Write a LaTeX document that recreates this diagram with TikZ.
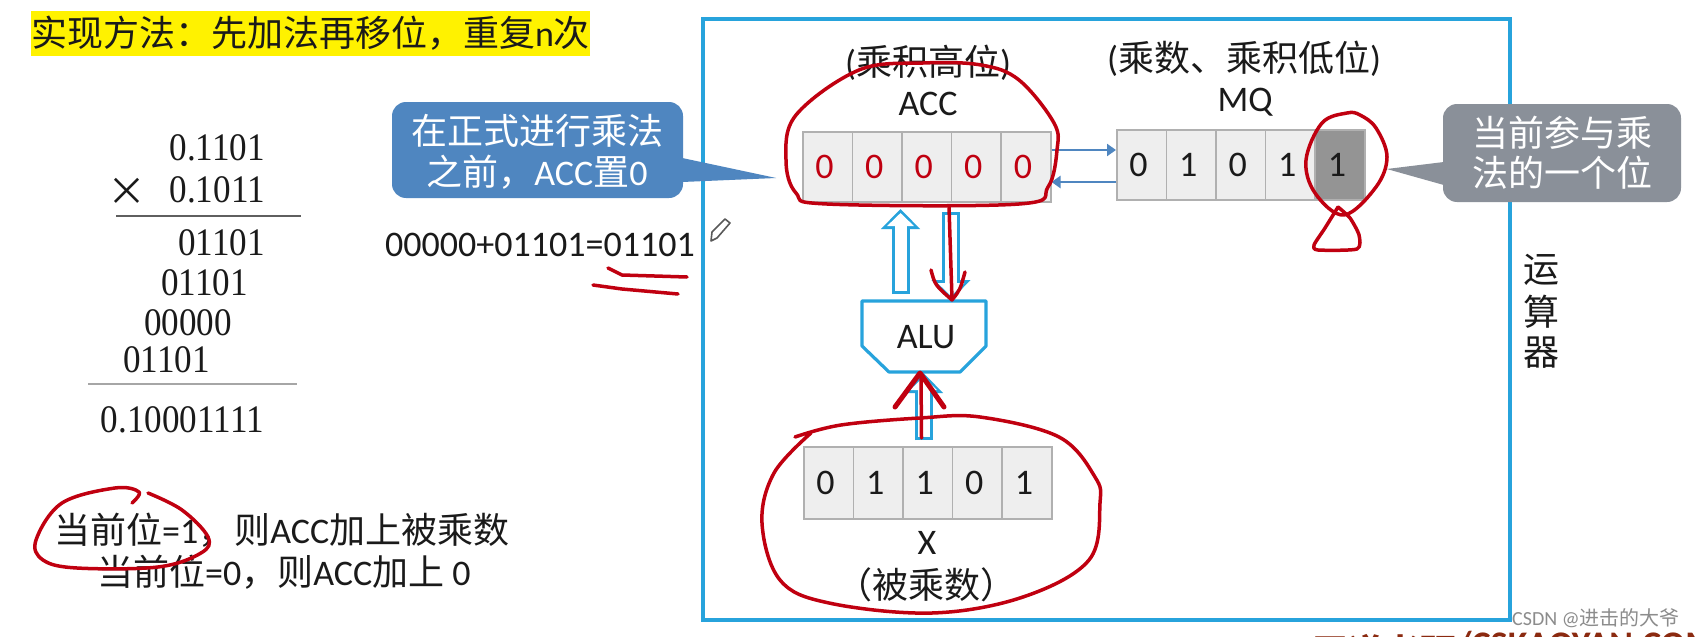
\documentclass[tikz,border=0pt]{standalone}
\usepackage{fontspec}
\usetikzlibrary{arrows.meta,calc}
\setmainfont{Carlito}
\newfontfamily\cjk{Noto Sans CJK SC}
\newfontfamily\tms[FakeStretch=0.9]{Liberation Serif}
\definecolor{boxblue}{HTML}{27A3DC}
\definecolor{inkred}{HTML}{C00010}
\definecolor{callblue}{HTML}{4F86C0}
\definecolor{callgray}{HTML}{8A9099}
\definecolor{cellgray}{HTML}{EEEEEE}
\definecolor{celledge}{HTML}{B0B0B0}
\definecolor{ink}{HTML}{1A1A1A}
\definecolor{brownmark}{HTML}{8B2A10}
\newcommand{\C}[1]{{\cjk #1}}
\newcommand{\D}[1]{#1\kern6pt\relax}
\tikzset{
  txt/.style={inner sep=0pt,text=ink,font=\fontsize{36}{40}\selectfont},
  sums/.style={inner sep=0pt,anchor=east,text=ink,font=\tms\fontsize{39}{42}\selectfont},
  cell/.style={draw=celledge,fill=cellgray,line width=1.5pt,minimum width=49.6pt,minimum height=70pt,inner sep=0pt,font=\fontsize{36}{40}\selectfont,text=ink,anchor=west},
  scribble/.style={draw=inkred,line width=3.5pt,line cap=round,line join=round},
  thin arrow/.style={draw=callblue,line width=2.5pt,-{Triangle[length=9pt,width=12pt]}},
  callbox/.style={rounded corners=14pt,inner sep=0pt,draw=none},
  calltext/.style={inner sep=0pt,text=white,font=\fontsize{36}{40}\selectfont}
}
\newcommand{\hollow}[2]{%
  \draw[boxblue,line width=18pt,-{Triangle[length=20pt,width=38pt]}] (#1) -- (#2);
  \draw[white,line width=12pt,shorten <=3pt,shorten >=4pt,-{Triangle[length=13pt,width=26pt]}] (#1) -- (#2);
}
\begin{document}
\begin{tikzpicture}[x=1pt,y=-1pt]
\useasboundingbox (0,0) rectangle (1700,637);
\clip (0,0) rectangle (1700,637);
\fill[white] (0,0) rectangle (1700,637);

% title
\node[inner sep=0pt,fill=yellow,minimum width=557pt,minimum height=45pt,text=ink,font=\fontsize{36}{40}\selectfont] (title) at (310.5,33.5) {\C{实现方法：先加法再移位，重复}n\C{次}};

% long multiplication
\node[sums] (m1) at (265,148) {0.1101};
\node[sums] (m2) at (265,190) {0.1011};
\node[sums] (mx) at (147,192) {\C{×}};
\node[sums] (p1) at (265,243) {01101};
\node[sums] (p2) at (248,283) {01101};
\node[sums] (p3) at (232,323) {00000};
\node[sums] (p4) at (210,360) {01101};
\node[sums] (res) at (264,420) {0.10001111};
\draw[draw=ink!70,line width=1.5pt] (116,216) -- (301,216);
\draw[draw=black!35,line width=1.5pt] (88,384) -- (297,384);

% notes
\node[txt,anchor=west] (n1) at (54,530) {\C{当前位}=1\C{，则}ACC\C{加上被乘数}};
\node[txt,anchor=west] (n2) at (97,572) {\C{当前位}=0\C{，则}ACC\C{加上} 0};
\node[txt,anchor=west] (eq) at (385,245) {00000+01101=01101};

% main box
\draw[boxblue,line width=4pt] (703,19) rectangle (1510,620);
\node[txt] (yun) at (1541,270) {\C{运}};
\node[txt] (suan) at (1541,312) {\C{算}};
\node[txt] (qi) at (1541,353) {\C{器}};

% registers
\foreach \d [count=\i from 0] in {0,0,0,0,0}
  \node[cell,text=inkred] (a\i) at ({802+49.6*\i},167) {\D{\d}};
\foreach \d [count=\i from 0] in {0,1,0,1}
  \node[cell] (q\i) at ({1116+49.6*\i},165) {\D{\d}};
\node[cell,fill=black!42] (q4) at ({1116+49.6*4},165) {\D{1}};
\foreach \d [count=\i from 0] in {0,1,1,0,1}
  \node[cell,minimum height=72pt] (x\i) at ({803+49.6*\i},483) {\D{\d}};

% labels
\node[txt] (lacc) at (928,63) {(\C{乘积高位})};
\node[txt] (acc) at (928,104) {ACC};
\node[txt] (lmq) at (1244,59) {(\C{乘数、乘积低位})};
\node[txt] (mq) at (1245,102) {MQ};
\node[txt] (xn) at (927,543) {X};
\node[txt] (lx) at (926,585) {\C{（被乘数）}};

% thin arrows between ACC and MQ
\draw[thin arrow] ($(a4.east)+(0,-17)$) -- ($(q0.west)+(0,-15)$);
\draw[thin arrow] ($(q0.west)+(0,17)$) -- ($(a4.east)+(0,15)$);

% ALU
\node[txt] (alu) at (926,337) {ALU};
\draw[boxblue,line width=3.2pt,line join=round] (862,301) -- (986,301) -- (986,346) -- (960,372) -- (889,372) -- (862,346) -- cycle;

% hollow arrows
\coordinate (aluUpS) at (900.5,294);
\coordinate (accUpE) at (900.5,209);
\coordinate (accDnS) at (951,212);
\coordinate (aluDnE) at (951,300);
\coordinate (xUpS) at (923.5,440);
\coordinate (aluUpE) at (923.5,373);
\hollow{aluUpS}{accUpE}
\hollow{accDnS}{aluDnE}
\hollow{xUpS}{aluUpE}

% callouts
\node[callbox,fill=callblue,minimum width=291pt,minimum height=96pt] (cb) at (537.5,150) {};
\fill[callblue] ($(cb.east)+(-1,8)$) -- ($(cb.east)+(93,28)$) -- ($(cb.east)+(-1,32)$) -- cycle;
\node[calltext] (cb1) at (537.5,131) {\C{在正式进行乘法}};
\node[calltext] (cb2) at (537,172) {\C{之前，}ACC\C{置}0};
\node[callbox,fill=callgray,minimum width=238pt,minimum height=98pt] (cg) at (1562,153) {};
\fill[callgray] ($(cg.west)+(1,9)$) -- ($(cg.west)+(-56,16)$) -- ($(cg.west)+(1,32)$) -- cycle;
\node[calltext] (cg1) at (1562,133) {\C{当前参与乘}};
\node[calltext] (cg2) at (1562,173) {\C{法的一个位}};

% pencil cursor
\draw[black!65,line width=1.6pt,fill=white,line join=round] (711,241) -- (712,232) -- (725,219) -- (730,223) -- (717,238) -- cycle;

% red annotations
\draw[scribble] plot[smooth cycle,tension=.6] coordinates {(796,115) (859,70) (923,63) (981,65) (1019,80) (1054,123) (1057,150) (1048,187) (1019,204) (827,204) (796,193) (786,160)};
\draw[scribble] plot[smooth cycle,tension=.6] coordinates {(1347,113) (1322,123) (1306,160) (1315,193) (1344,215) (1376,187) (1387,157) (1376,128) (1360,115)};
\draw[scribble] plot[smooth,tension=.4] coordinates {(1338,207) (1325,228) (1314,245) (1318,250) (1357,249) (1359,235) (1350,218) (1338,207)};
\draw[scribble] plot[smooth,tension=.6] coordinates {(795,437) (841,425) (920,418) (980,417) (1059,437) (1095,477) (1100,503) (1089,560) (1023,597) (932,613) (829,603) (780,580) (762,523) (774,473) (811,433)};
\draw[scribble] plot[smooth,tension=.6] coordinates {(132,503) (139,492) (115,488) (62,503) (36,540) (43,560) (77,568) (158,567) (201,553) (208,537) (182,510) (148,493)};
\draw[scribble] (608,268) -- (622,275) -- (687,277);
\draw[scribble] (593,285) -- (622,289) -- (678,294);
\draw[scribble] (949,207) -- (952,299);
\draw[scribble] (931,270) .. controls (935,285) .. (952,300) .. controls (960,290) .. (965,272);
\draw[scribble] (921.5,438) -- (921,374);
\draw[scribble,line width=5pt] (895,407) -- (920,373) -- (944,407);

% corner texts
\node[inner sep=0pt,anchor=west,text=black!45,font=\fontsize{20}{22}\selectfont] (mark) at (1512,618) {CSDN @\C{进击的大爷}};
\node[inner sep=0pt,anchor=base west,text=brownmark,font=\bfseries\fontsize{36}{40}\selectfont] (brand) at (1312,665) {{\cjk\bfseries 王道考研}\raisebox{9pt}{/CSKAOYAN.COM}};
\end{tikzpicture}
\end{document}
